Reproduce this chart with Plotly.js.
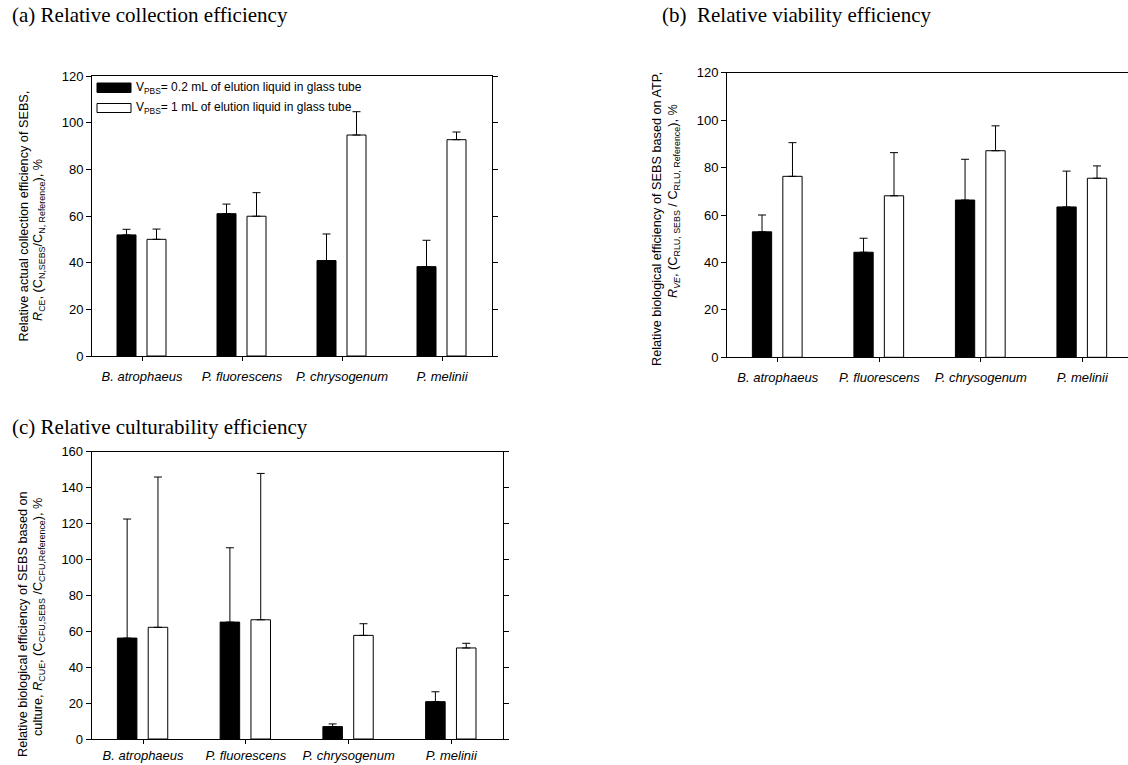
<!DOCTYPE html>
<html><head><meta charset="utf-8">
<script src="https://cdn.plot.ly/plotly-3.0.1.min.js"></script>
<style>html,body{margin:0;padding:0;background:#fff;overflow:hidden}</style>
</head><body><div id="chart" style="width:1128px;height:765px"></div>
<script>
// ---- data ----
const categories = ["B. atrophaeus", "P. fluorescens", "P. chrysogenum", "P. melinii"];
const seriesNames = ["V<sub>PBS</sub>= 0.2 mL of elution liquid in glass tube",
                     "V<sub>PBS</sub>= 1 mL of elution liquid in glass tube"];
// (a) relative collection efficiency
const collection02 = [51.9, 61.0, 40.9, 38.3];
const collection02Err = [2.4, 4.1, 11.4, 11.3];
const collection1 = [50.0, 59.9, 94.7, 92.7];
const collection1Err = [4.4, 10.1, 10.0, 3.3];
// (b) relative viability efficiency
const viability02 = [52.9, 44.3, 66.3, 63.4];
const viability02Err = [7.1, 5.9, 17.2, 15.1];
const viability1 = [76.3, 68.1, 87.1, 75.5];
const viability1Err = [14.2, 18.2, 10.5, 5.2];
// (c) relative culturability efficiency
const culture02 = [56.2, 65.1, 6.9, 20.8];
const culture02Err = [66.3, 41.4, 1.5, 5.5];
const culture1 = [62.2, 66.4, 57.7, 50.7];
const culture1Err = [83.7, 81.5, 6.5, 2.6];
const noLowerErr = [0, 0, 0, 0];

// ---- layout helpers ----
const W = 1128, H = 765;
const px = v => v / W;
const py = v => 1 - v / H;
const SANS = "Liberation Sans, Arial, sans-serif";
const SERIF = "Liberation Serif, Times New Roman, serif";

function barTrace(vals, errs, dark, xa, ya, name) {
  return {
    type: 'bar', x: categories, y: vals, name: name, xaxis: xa, yaxis: ya,
    width: 0.19, offset: dark ? -0.25 : 0.05,
    marker: {color: dark ? '#000' : '#fff', line: {color: '#000', width: 1}},
    error_y: {type: 'data', symmetric: false, array: errs, arrayminus: noLowerErr,
              color: '#000', thickness: 1, width: 4},
    showlegend: false, hoverinfo: 'skip'
  };
}

const traces = [
  barTrace(collection02, collection02Err, true, 'x', 'y', seriesNames[0]),
  barTrace(collection1, collection1Err, false, 'x', 'y', seriesNames[1]),
  barTrace(viability02, viability02Err, true, 'x2', 'y2', seriesNames[0]),
  barTrace(viability1, viability1Err, false, 'x2', 'y2', seriesNames[1]),
  barTrace(culture02, culture02Err, true, 'x3', 'y3', seriesNames[0]),
  barTrace(culture1, culture1Err, false, 'x3', 'y3', seriesNames[1])
];

function xAxis(dom, rng, anchor, standoff) {
  return {
    domain: dom, range: rng, anchor: anchor, type: 'category',
    tickmode: 'array', tickvals: categories,
    ticktext: categories.map(c => '<i>' + c + '</i>'),
    ticks: 'outside', ticklen: 4, tickwidth: 1, tickcolor: '#000',
    ticklabelstandoff: standoff,
    showline: true, linecolor: '#000', linewidth: 1, mirror: true,
    showgrid: false, zeroline: false,
    tickfont: {family: SANS, size: 13, color: '#000'}
  };
}
function yAxis(dom, rng, anchor, mirror) {
  return {
    domain: dom, range: rng, anchor: anchor, dtick: 20, tick0: 0,
    ticks: 'outside', ticklen: 5, tickwidth: 1, tickcolor: '#000',
    showline: true, linecolor: '#000', linewidth: 1, mirror: mirror,
    showgrid: false, zeroline: false,
    tickfont: {family: SANS, size: 13, color: '#000'}
  };
}

function yTitle(text, x, y) {
  return {xref: 'paper', yref: 'paper', x: px(x), y: py(y), text: text, textangle: -90,
          showarrow: false, xanchor: 'center', yanchor: 'middle',
          font: {family: SANS, size: 12.7, color: '#000'}};
}
function panelTitle(text, x, y) {
  return {xref: 'paper', yref: 'paper', x: px(x), y: py(y), text: text,
          showarrow: false, xanchor: 'left', yanchor: 'middle',
          font: {family: SERIF, size: 21, color: '#000'}};
}
function legendText(text, x, y) {
  return {xref: 'paper', yref: 'paper', x: px(x), y: py(y), text: text,
          showarrow: false, xanchor: 'left', yanchor: 'middle',
          font: {family: SANS, size: 12, color: '#000'}};
}

const layout = {
  width: W, height: H, margin: {l: 0, r: 0, t: 0, b: 0},
  paper_bgcolor: '#fff', plot_bgcolor: '#fff', showlegend: false,
  xaxis:  xAxis([px(92), px(492)], [-0.5, 3.5], 'y', 4),
  yaxis:  yAxis([py(356), py(76)], [0, 120], 'x', 'ticks'),
  xaxis2: xAxis([px(727), 1], [-0.5, 3.45], 'y2', 4),
  yaxis2: yAxis([py(357.3), py(72.7)], [0, 120], 'x2', false),
  xaxis3: xAxis([px(91.7), px(502.7)], [-0.5, 3.5], 'y3', 0),
  yaxis3: yAxis([py(739), py(451.7)], [0, 160], 'x3', 'ticks'),
  shapes: [
    {type: 'rect', xref: 'paper', yref: 'paper', x0: px(97), x1: px(131), y0: py(92.5), y1: py(83),
     fillcolor: '#000', line: {color: '#000', width: 1}},
    {type: 'rect', xref: 'paper', yref: 'paper', x0: px(97), x1: px(131), y0: py(112.5), y1: py(103.5),
     fillcolor: '#fff', line: {color: '#000', width: 1}}
  ],
  annotations: [
    panelTitle('(a) Relative collection efficiency', 10, 15),
    panelTitle('(b)\u00a0\u00a0Relative viability efficiency', 660, 15),
    panelTitle('(c) Relative culturability efficiency', 10, 427),
    legendText(seriesNames[0], 134, 88),
    legendText(seriesNames[1], 134, 108),
    yTitle('Relative actual collection efficiency of SEBS,', 23, 216.5),
    yTitle('<i>R</i><sub>CE</sub>, (C<sub>N,SEBS</sub>/C<sub>N, Reference</sub>), %', 39, 240),
    yTitle('Relative biological efficiency of SEBS based on ATP,', 657, 219),
    yTitle('<i>R</i><sub><i>VE</i></sub>, (C<sub>RLU, SEBS</sub> / C<sub>RLU, Reference</sub>), %', 674, 201),
    yTitle('Relative biological efficiency of SEBS based on', 23, 624),
    yTitle('culture, <i>R</i><sub>CUE</sub>, (C<sub>CFU,SEBS</sub> /C<sub>CFU,Reference</sub>), %', 39, 617)
  ]
};

Plotly.newPlot('chart', traces, layout, {displayModeBar: false, staticPlot: true});
</script>
</body></html>
